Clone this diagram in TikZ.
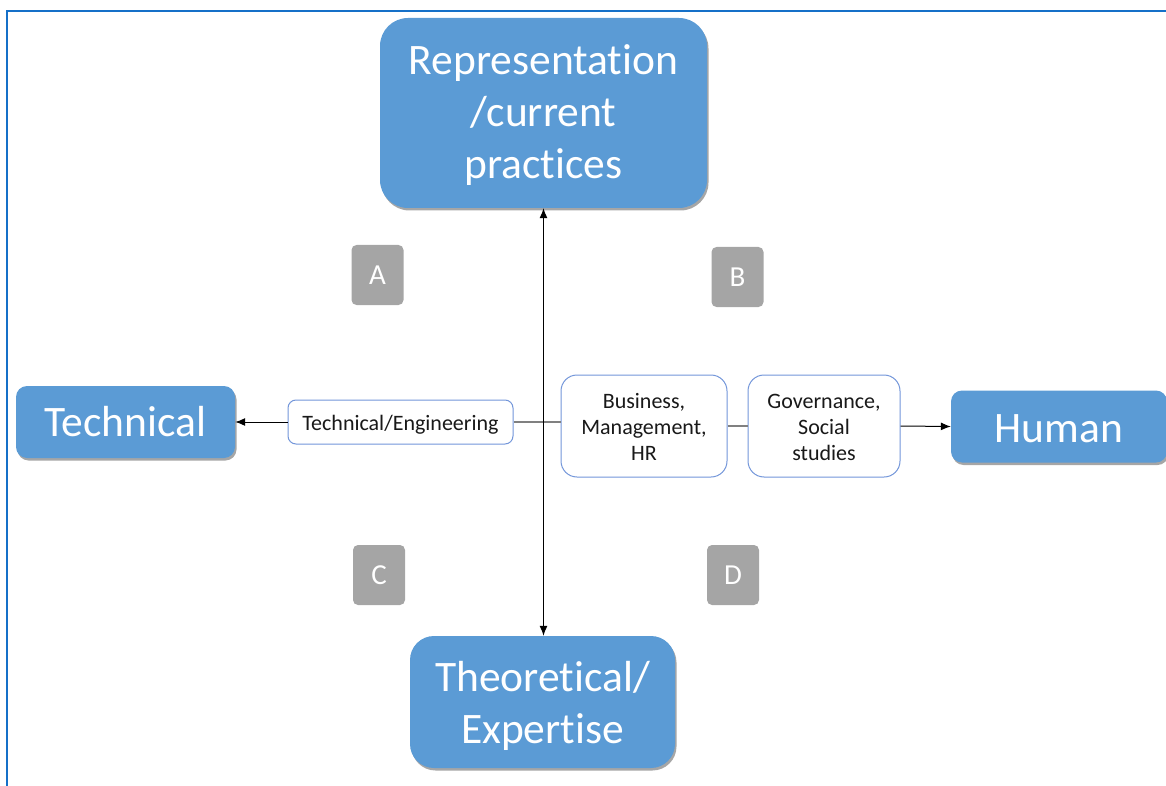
\documentclass[tikz,border=0pt]{standalone}
\usepackage{fontspec}
\setmainfont{Carlito}[RawFeature=-liga]
\usetikzlibrary{arrows.meta,shadows}
\definecolor{frameblue}{HTML}{1570C8}
\definecolor{boxblue}{HTML}{5B9BD5}
\definecolor{edgeblue}{HTML}{7396DA}
\definecolor{tagGrey}{HTML}{A5A5A5}
\definecolor{linkgrey}{HTML}{808080}
\tikzset{
  axisbox/.style={fill=boxblue, draw=none, text=white, align=center,
    font=\fontsize{43.5}{52}\selectfont,
    drop shadow={shadow xshift=1.5pt, shadow yshift=-2.5pt, opacity=0.35, fill=black}},
  fieldbox/.style={fill=white, draw=edgeblue, line width=1pt, text=black!90,
    align=center, font=\fontsize{22}{26}\selectfont},
  quadtag/.style={fill=tagGrey, draw=none, text=white, rounded corners=5pt,
    minimum width=52pt, minimum height=60pt, inner sep=0pt,
    font=\fontsize{29}{34}\selectfont},
  arr/.style={draw=black, line width=1pt, -{Latex[length=10pt,width=8pt]}},
  biarr/.style={draw=black, line width=1pt, {Latex[length=10pt,width=8pt]}-{Latex[length=10pt,width=8pt]}},
  link/.style={draw=linkgrey, line width=1.6pt},
}
\newcommand{\lift}[1]{\rule{0pt}{#1}}
\begin{document}
\begin{tikzpicture}[x=1pt,y=-1pt]
\useasboundingbox (0,0) rectangle (1166,786);
% outer frame (top and left edges visible)
\draw[frameblue, line width=2.2pt] (7,786) -- (7,11) -- (1166,11);

% axis ends
\node[axisbox, rounded corners=28pt, minimum width=327pt, minimum height=190pt, inner sep=0pt]
  (top) at (543.5,113) {\lift{34pt}Representation\\/current\\practices};
\node[axisbox, rounded corners=24pt, minimum width=265pt, minimum height=132pt, inner sep=0pt]
  (bottom) at (542.5,702) {\lift{37pt}Theoretical/\\Expertise};
\node[axisbox, rounded corners=11pt, minimum width=219pt, minimum height=72pt, inner sep=0pt]
  (technical) at (125.5,422) {Technical};
\node[axisbox, rounded corners=11pt, minimum width=216pt, minimum height=72pt, inner sep=0pt]
  (human) at (1059,426.5) {\lift{32pt}Human};

% disciplines along the horizontal axis
\node[fieldbox, rounded corners=8pt, minimum width=225pt, minimum height=44pt, inner sep=0pt]
  (techeng) at (400.5,422) {\lift{20pt}Technical/Engineering};
\node[fieldbox, rounded corners=16pt, minimum width=166pt, minimum height=102pt, inner sep=0pt]
  (business) at (644,426) {\lift{17.5pt}Business,\\Management,\\HR};
\node[fieldbox, rounded corners=16pt, minimum width=152pt, minimum height=102pt, inner sep=0pt]
  (governance) at (824,426) {\lift{17.5pt}Governance,\\Social\\studies};

% quadrant tags
\node[quadtag] (qa) at (377.5,275) {A};
\node[quadtag] (qb) at (737.5,277) {B};
\node[quadtag] (qc) at (379,575) {C};
\node[quadtag] (qd) at (733,575) {D};

% connectors
\draw[link] (techeng.east) -- (business.west |- techeng.east);
\draw[link] (business.east) -- (governance.west);
\draw[arr] (techeng.west) -- (technical.east |- techeng.west);
\draw[arr] (governance.east) -- (human.west);
\draw[biarr] (top.south) -- (top.south |- bottom.north);
\end{tikzpicture}
\end{document}
